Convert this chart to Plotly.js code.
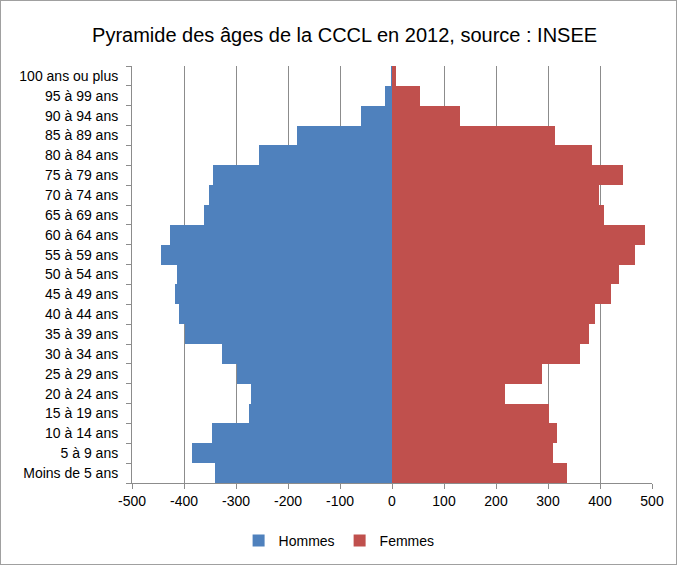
<!DOCTYPE html>
<html><head><meta charset="utf-8">
<script src="https://cdn.plot.ly/plotly-3.0.1.min.js"></script>
<style>html,body{margin:0;padding:0;background:#fff}#c{width:677px;height:565px;position:relative}
#f{position:absolute;left:0;top:0;width:675px;height:563px;border:1px solid #a0a0a0;pointer-events:none}</style>
</head><body><div id="c"></div><div id="f"></div>
<script>
const categories = ["Moins de 5 ans","5 à 9 ans","10 à 14 ans","15 à 19 ans","20 à 24 ans","25 à 29 ans","30 à 34 ans","35 à 39 ans","40 à 44 ans","45 à 49 ans","50 à 54 ans","55 à 59 ans","60 à 64 ans","65 à 69 ans","70 à 74 ans","75 à 79 ans","80 à 84 ans","85 à 89 ans","90 à 94 ans","95 à 99 ans","100 ans ou plus"];
const hommes = [-340,-385,-347,-275,-272,-298,-327,-399,-410,-417,-413,-445,-427,-362,-352,-344,-255,-182,-59,-13,-2];
const femmes = [336,309,318,302,218,289,361,379,391,422,437,467,487,407,399,444,384,314,131,53,8];
const xTickVals = [-500,-400,-300,-200,-100,0,100,200,300,400,500];
const xTickText = ["-500","-400","-300","-200","-100","0","100","200","300","400","500"];
const FONT = "'Liberation Sans',Arial,sans-serif";
const data = [
 {type:'bar',orientation:'h',name:'Hommes',y:categories,x:hommes,marker:{color:'#4f81bd',line:{width:0}}},
 {type:'bar',orientation:'h',name:'Femmes',y:categories,x:femmes,marker:{color:'#c0504d',line:{width:0}}}
];
const layout = {
 width:677,height:565,paper_bgcolor:'#fff',plot_bgcolor:'#fff',
 margin:{l:132,r:25,t:66,b:82,autoexpand:false},
 font:{family:FONT,size:14,color:'#000'},
 title:{text:'Pyramide des âges de la CCCL en 2012, source : INSEE',font:{family:FONT,size:20,color:'#000'},x:0.509,xanchor:'center',y:0.938,yanchor:'middle'},
 barmode:'relative',bargap:0,
 xaxis:{range:[-500,500],tickvals:xTickVals,ticktext:xTickText,showgrid:true,gridcolor:'#8c8c8c',gridwidth:1,zeroline:false,
   showline:true,linecolor:'#8c8c8c',ticks:'outside',ticklen:5,tickcolor:'#8c8c8c',tickfont:{size:14},automargin:false},
 yaxis:{type:'category',tickson:'boundaries',ticks:'outside',ticklen:5,tickcolor:'#8c8c8c',showgrid:false,zeroline:false,
   showline:true,linecolor:'#8c8c8c',tickfont:{size:14},ticklabelstandoff:10,automargin:false},
 legend:{orientation:'h',x:0.205,xanchor:'left',y:-0.139,yanchor:'middle',font:{size:14},itemwidth:30,tracegroupgap:0},
 showlegend:true
};
Plotly.newPlot('c',data,layout,{displayModeBar:false,staticPlot:true});
</script></body></html>
